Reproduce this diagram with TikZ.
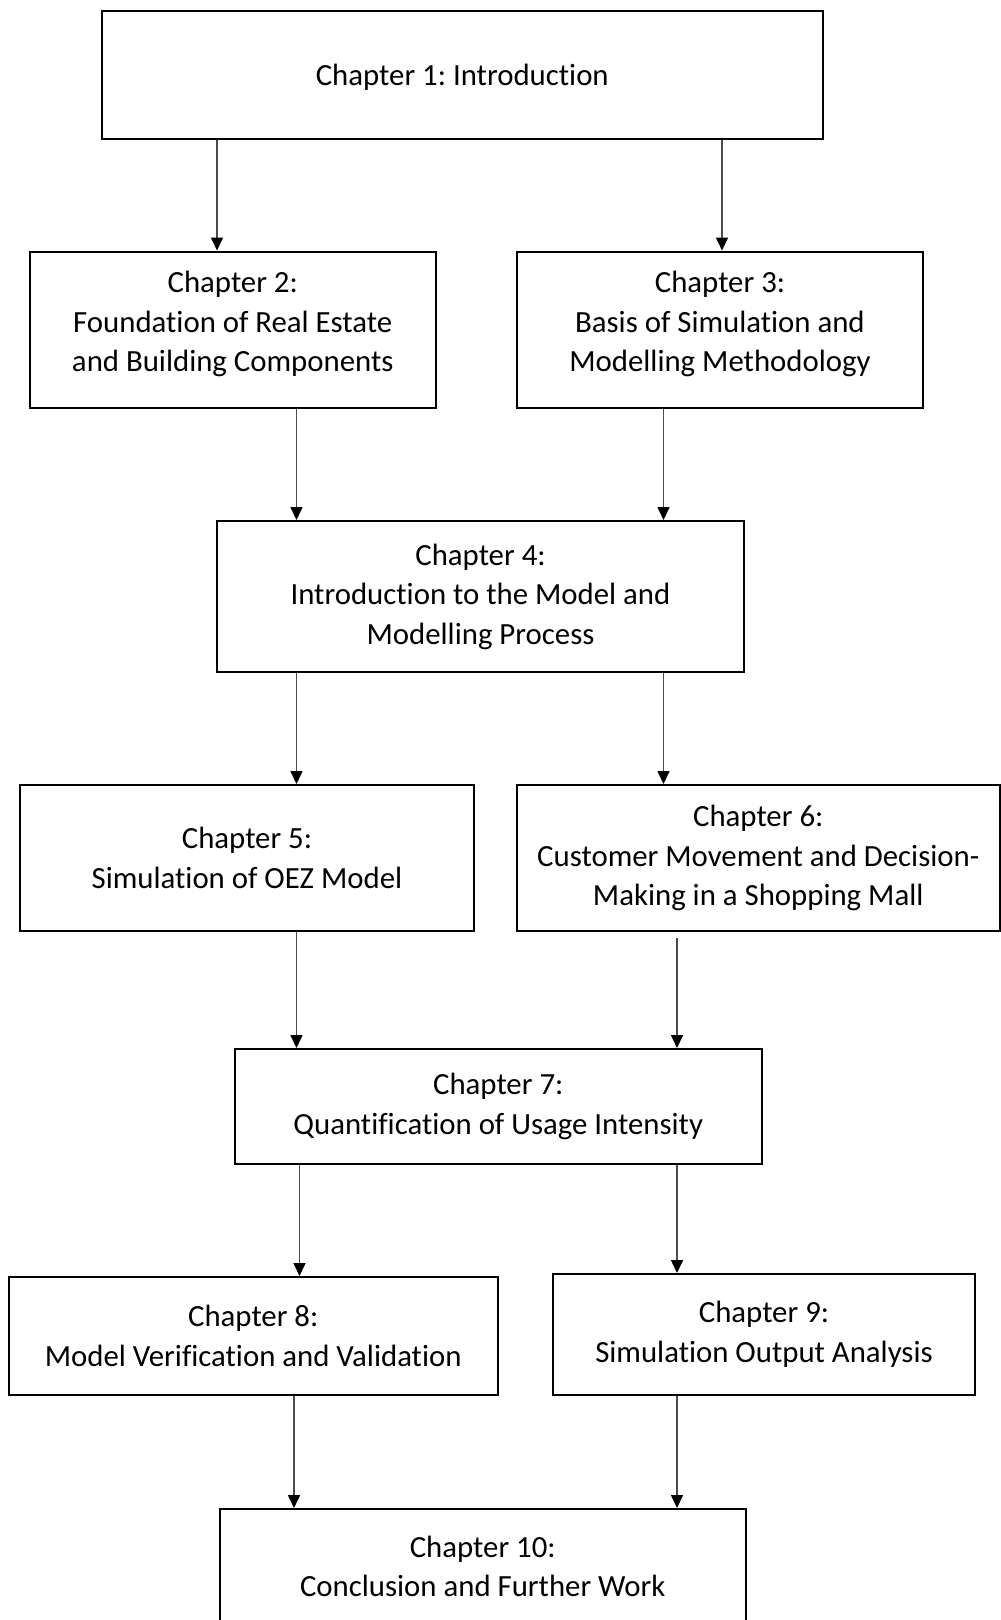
\documentclass[tikz,border=0pt]{standalone}
\usepackage{fontspec}
\setmainfont[Ligatures=NoCommon]{Carlito}
\usetikzlibrary{arrows.meta, positioning}
\newcommand{\lowpad}{\rule[-16pt]{0pt}{0pt}}
\newcommand{\toppad}{\rule{0pt}{26pt}}
\frenchspacing

\begin{document}
\begin{tikzpicture}[
    x=1pt, y=-1pt,
    box/.style={draw, rectangle, line width=2pt, align=center, inner sep=0pt, font=\fontsize{30.8}{39.5}\selectfont},
    arrow/.style={-{Triangle[length=13pt, width=12pt, color=black]}, line width=1.6pt, draw=black!70}
]
\useasboundingbox (0,0) rectangle (1001,1620);
\clip (0,0) rectangle (1001,1620);

% Connector columns
\coordinate (colA) at (217,0);
\coordinate (colB) at (722,0);
\coordinate (colC) at (296.5,0);
\coordinate (colD) at (663.5,0);
\coordinate (colE) at (299.5,0);
\coordinate (colF) at (294,0);
\coordinate (colG) at (677,0);

% Nodes Row 1
\node (ch1) [box, minimum width=721.5pt, minimum height=128pt] at (462.25,75) {\toppad Chapter 1: Introduction};

% Nodes Row 2
\node (ch2) [box, minimum width=405.5pt, minimum height=156.5pt] at (232.75,329.75) {Chapter 2:\\Foundation of Real Estate\\and Building Components\lowpad};
\node (ch3) [box, minimum width=406pt, minimum height=156.5pt] at (720,329.75) {Chapter 3:\\Basis of Simulation and\\Modelling Methodology\lowpad};

% Nodes Row 3
\node (ch4) [box, minimum width=527pt, minimum height=151pt] at (480.5,596.5) {Chapter 4:\\Introduction to the Model and\\Modelling Process};

% Nodes Row 4
\node (ch5) [box, minimum width=454pt, minimum height=146pt] at (247,858) {Chapter 5:\\Simulation of OEZ Model};
\node (ch6) [box, minimum width=482.5pt, minimum height=146pt] at (758.25,858) {Chapter 6:\\Customer Movement and Decision-\\Making in a Shopping Mall};

% Nodes Row 5
\node (ch7) [box, minimum width=526.5pt, minimum height=115pt] at (498.25,1106.5) {Chapter 7:\\Quantification of Usage Intensity};

% Nodes Row 6
\node (ch8) [box, minimum width=488.5pt, minimum height=118pt] at (253.25,1336) {Chapter 8:\\Model Verification and Validation};
\node (ch9) [box, minimum width=422pt, minimum height=121pt] at (764,1334.5) {Chapter 9:\\Simulation Output Analysis};

% Nodes Row 7
\node (ch10) [box, minimum width=526.5pt, minimum height=115pt] at (482.75,1566.5) {Chapter 10:\\Conclusion and Further Work};

% Paths
\draw [arrow] (ch1.south -| colA) -- (ch2.north -| colA);
\draw [arrow] (ch1.south -| colB) -- (ch3.north -| colB);
\draw [arrow] (ch2.south -| colC) -- (ch4.north -| colC);
\draw [arrow] (ch3.south -| colD) -- (ch4.north -| colD);
\draw [arrow] (ch4.south -| colC) -- (ch5.north -| colC);
\draw [arrow] (ch4.south -| colD) -- (ch6.north -| colD);
\draw [arrow] (ch5.south -| colC) -- (ch7.north -| colC);
\draw [arrow, shorten <=6pt] (ch6.south -| colG) -- (ch7.north -| colG);
\draw [arrow] (ch7.south -| colE) -- (ch8.north -| colE);
\draw [arrow] (ch7.south -| colG) -- (ch9.north -| colG);
\draw [arrow] (ch8.south -| colF) -- (ch10.north -| colF);
\draw [arrow] (ch9.south -| colG) -- (ch10.north -| colG);

\end{tikzpicture}
\end{document}
